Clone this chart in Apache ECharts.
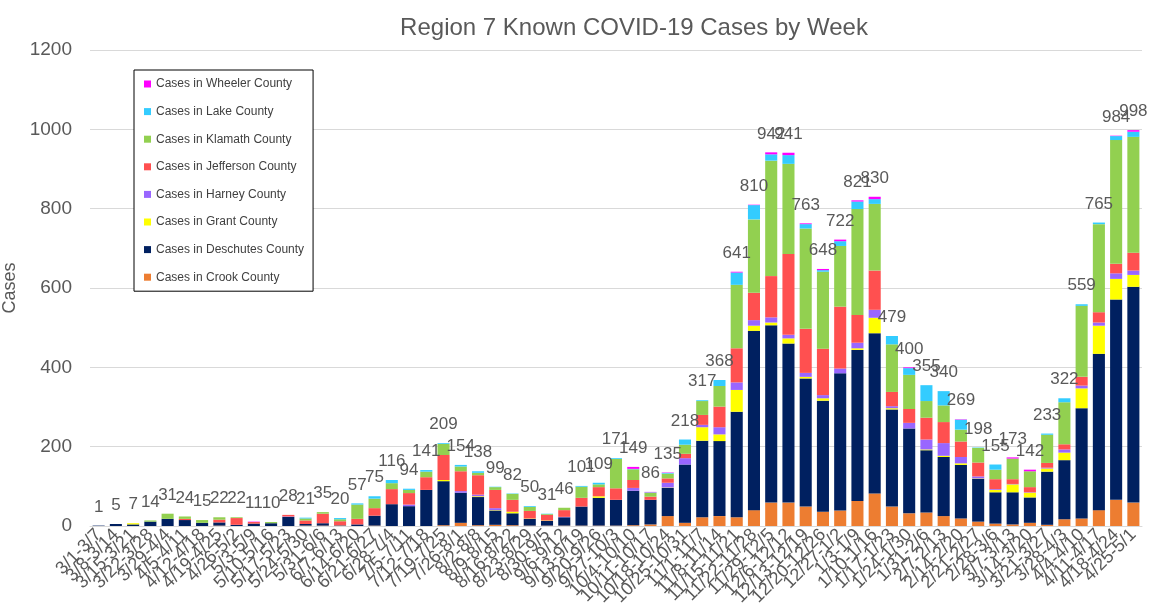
<!DOCTYPE html>
<html>
<head>
<meta charset="utf-8">
<script src="https://cdn.jsdelivr.net/npm/echarts/dist/echarts.min.js"></script>
<style>
html,body{margin:0;padding:0;background:#fff;}
#chart{width:1154px;height:613px;}
</style>
</head>
<body>
<div id="chart"></div>
<script>
const weeks = ["3/1-3/7","3/8-3/14","3/15-3/21","3/22-3/28","3/29-4/4","4/5-4/11","4/12-4/18","4/19-4/25","4/26-5/2","5/3-5/9","5/10-5/16","5/17-5/23","5/24-5/30","5/31-6/6","6/7-6/13","6/14-6/20","6/21-6/27","6/28-7/4","7/5-7/11","7/12-7/18","7/19-7/25","7/26-8/1","8/2-8/8","8/9-8/15","8/16-8/22","8/23-8/29","8/30-9/5","9/6-9/12","9/13-9/19","9/20-9/26","9/27-10/3","10/4-10/10","10/11-10/17","10/18-10/24","10/25-10/31","11/1-11/7","11/8-11/14","11/15-11/21","11/22-11/28","11/29-12/5","12/6-12/12","12/13-12/19","12/20-12/26","12/27-1/2","1/3-1/9","1/10-1/16","1/17-1/23","1/24-1/30","1/31-2/6","2/7-2/13","2/14-2/20","2/21-2/27","2/28-3/6","3/7-3/13","3/14-3/20","3/21-3/27","3/28-4/3","4/4-4/10","4/11-4/17","4/18-4/24","4/25-5/1"];

const crook     = [0,0,0,0,0,0,0,1,0,0,0,0,1,1,1,0,1,0,0,0,2,8,2,3,2,1,1,1,1,1,1,2,4,25,8,22,25,22,40,59,59,49,36,39,63,82,49,32,34,25,19,11,6,4,8,3,17,19,40,66,59];
const deschutes = [1,5,4,11,18,15,8,8,3,6,7,23,4,6,1,4,25,55,50,91,111,76,71,36,30,17,12,21,48,70,65,87,62,71,147,193,189,266,452,447,401,323,280,346,381,404,245,214,157,149,135,108,79,81,64,134,149,278,394,505,544];
const grant     = [0,0,3,0,0,0,0,0,0,0,0,0,0,0,0,0,0,0,0,0,3,0,2,1,4,1,1,0,0,4,0,0,0,1,0,34,17,55,13,7,13,4,6,0,4,39,3,0,2,3,4,1,6,20,12,8,19,50,71,52,30];
const harney    = [0,0,0,0,0,0,0,0,0,0,0,1,0,0,0,0,0,0,4,0,0,4,4,5,0,0,0,1,0,0,0,7,0,12,16,6,18,19,14,13,9,10,8,12,14,20,5,14,25,32,16,5,2,1,1,2,8,7,8,14,11];
const jefferson = [0,0,0,0,0,3,0,7,17,4,0,4,9,24,10,14,19,38,29,32,63,50,49,46,30,19,14,17,22,23,29,20,8,11,11,25,52,86,69,104,204,111,117,156,70,99,36,35,55,53,39,35,25,12,13,12,13,22,26,24,45];
const klamath   = [0,0,0,3,13,6,7,6,2,0,3,0,5,4,5,36,24,15,8,14,28,12,6,7,15,10,2,6,28,7,74,27,10,12,23,35,52,160,185,291,227,253,194,153,267,168,120,86,42,42,30,37,24,52,40,71,106,179,222,312,292];
const lake      = [0,0,0,0,0,0,0,0,0,0,0,0,2,0,3,3,6,8,3,4,2,4,4,1,1,2,1,0,2,4,2,1,1,2,13,2,15,31,36,16,22,11,4,12,19,12,21,17,40,36,25,1,13,0,0,3,10,4,4,10,13];
const wheeler   = [0,0,0,0,0,0,0,0,0,1,0,0,0,0,0,0,0,0,0,0,0,0,0,0,0,0,0,0,0,0,0,5,1,1,0,0,0,2,1,5,6,2,3,4,3,6,0,2,0,0,1,0,0,3,4,0,0,0,0,1,4];
const totals    = [1,5,7,14,31,24,15,22,22,11,10,28,21,35,20,57,75,116,94,141,209,154,138,99,82,50,31,46,101,109,171,149,86,135,218,317,368,641,810,942,941,763,648,722,821,830,479,400,355,340,269,198,155,173,142,233,322,559,765,984,998];
const yTicks    = [0,200,400,600,800,1000,1200];

const seriesDefs = [
  ["Cases in Crook County", crook, "#ED7D31"],
  ["Cases in Deschutes County", deschutes, "#002060"],
  ["Cases in Grant County", grant, "#FFFF00"],
  ["Cases in Harney County", harney, "#9966FF"],
  ["Cases in Jefferson County", jefferson, "#FF5050"],
  ["Cases in Klamath County", klamath, "#92D050"],
  ["Cases in Lake County", lake, "#33CCFF"],
  ["Cases in Wheeler County", wheeler, "#FF00FF"]
];

const FONT = "Liberation Sans, Arial, sans-serif";
const series = seriesDefs.map((d, idx) => {
  const s = {
    name: d[0], type: 'bar', stack: 'total', data: d[1],
    itemStyle: {color: d[2]},
    barCategoryGap: '30%',
    animation: false
  };
  if (idx === seriesDefs.length - 1) {
    s.label = {
      show: true, position: 'top', distance: 10,
      color: '#595959', fontSize: 17, fontFamily: FONT,
      formatter: p => String(totals[p.dataIndex])
    };
  }
  return s;
});

const chart = echarts.init(document.getElementById('chart'), null, {renderer: 'canvas'});
chart.setOption({
  backgroundColor: '#fff',
  animation: false,
  title: {
    text: 'Region 7 Known COVID-19 Cases by Week',
    left: 629, top: 11, textAlign: 'center',
    textStyle: {color: '#595959', fontSize: 24, fontWeight: 'normal', fontFamily: FONT}
  },
  legend: {
    orient: 'vertical', left: 134, top: 70,
    padding: [8, 9, 8, 10],
    borderColor: '#000', borderWidth: 1, backgroundColor: '#fff',
    itemWidth: 7, itemHeight: 7, itemGap: 15.6,
    icon: 'rect', selectedMode: false,
    textStyle: {fontSize: 12, lineHeight: 12, color: '#404040', fontFamily: FONT},
    data: seriesDefs.map(d => d[0]).reverse()
  },
  grid: {left: 90, right: 12, top: 50, bottom: 87, containLabel: false, outerBoundsMode: 'none'},
  xAxis: {
    type: 'category', data: weeks,
    axisLine: {lineStyle: {color: '#d9d9d9'}},
    axisTick: {show: false},
    axisLabel: {interval: 0, rotate: 45, fontSize: 18, color: '#595959', margin: 6, fontFamily: FONT}
  },
  yAxis: {
    type: 'value', min: yTicks[0], max: yTicks[yTicks.length - 1], interval: 200,
    name: 'Cases', nameLocation: 'middle', nameGap: 64, nameRotate: 90,
    nameTextStyle: {color: '#595959', fontSize: 18, fontFamily: FONT},
    axisLine: {show: false}, axisTick: {show: false},
    axisLabel: {fontSize: 19, color: '#595959', margin: 18, fontFamily: FONT, formatter: v => String(v)},
    splitLine: {lineStyle: {color: '#d9d9d9'}}
  },
  series: series
});
</script>
</body>
</html>
